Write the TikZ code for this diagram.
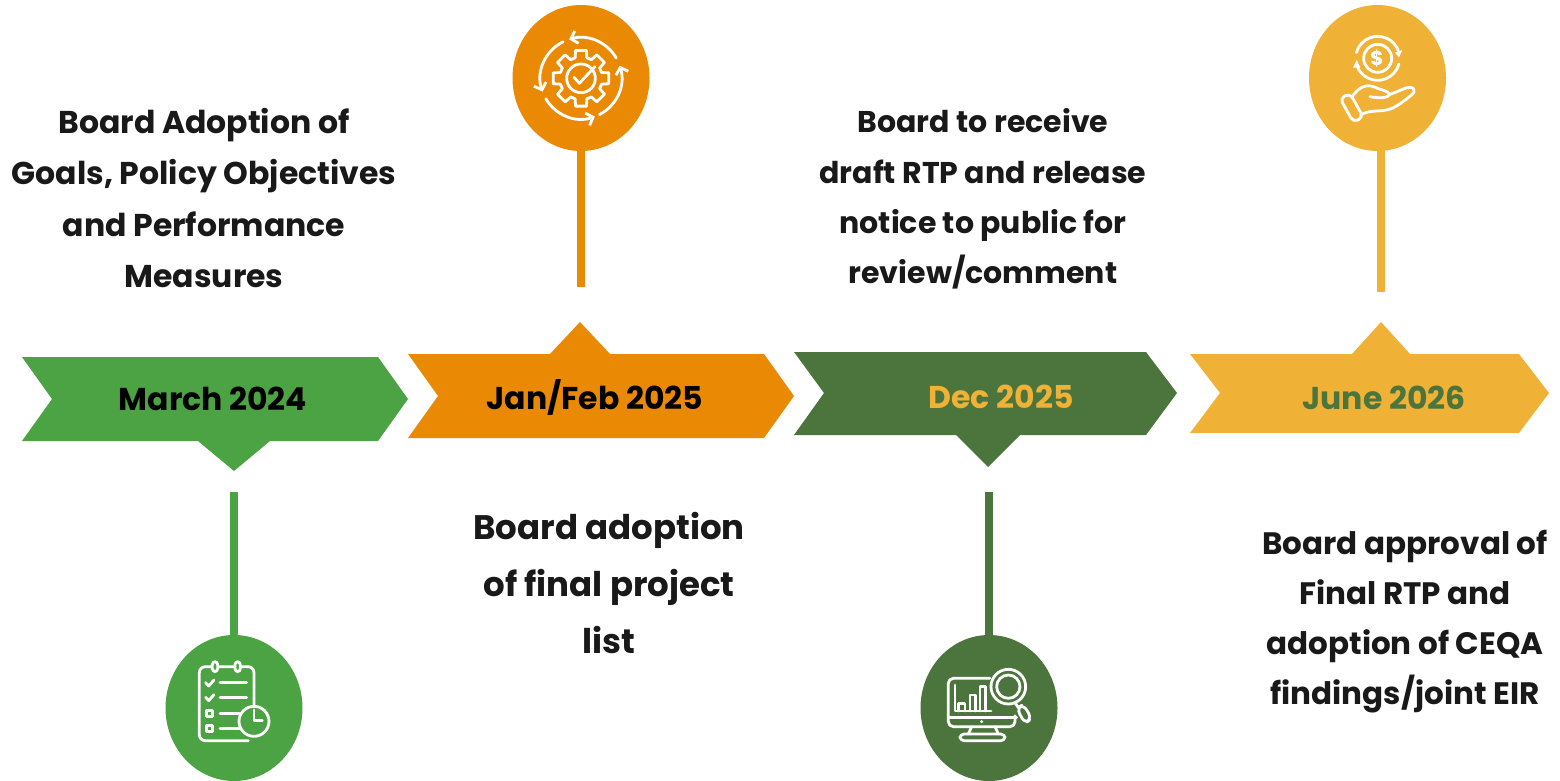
\documentclass[tikz,border=0pt]{standalone}
\usepackage{fontspec}
\setmainfont{Poppins}
\usetikzlibrary{calc,shapes.geometric,arrows.meta}
\definecolor{gA}{HTML}{4BA343}
\definecolor{oA}{HTML}{EA8A04}
\definecolor{dA}{HTML}{4C753D}
\definecolor{yA}{HTML}{EFB236}
\begin{document}
\begin{tikzpicture}[x=1pt,y=-1pt,
 lab/.style={align=center,font=\fontsize{31.5}{51.5}\selectfont\bfseries,text=black!90},
 dt/.style={font=\fontsize{31.5}{36}\selectfont\bfseries},
 disc/.style={ellipse,inner sep=0pt,minimum width=137pt,minimum height=146pt},
 stem/.style={line width=8pt},
 ico/.style={draw=white,line width=2.8pt,line cap=round,line join=round},
 tip/.style={-{Straight Barb[length=6pt,width=13pt,line width=2.8pt]}}]
\useasboundingbox (0,0) rectangle (1560,781);
\fill[white] (0,0) rectangle (1560,781);
\fill[gA] (22,357)--(378,357)--(408,399)--(378,441)--(270,441)--(234,471)--(198,441)--(22,441)--(52,399)--cycle;
\fill[oA] (408,354)--(550,354)--(580,322)--(610,354)--(764,354)--(794,396)--(764,438)--(408,438)--(438,396)--cycle;
\fill[dA] (794,352)--(1146,352)--(1177,393)--(1146,435)--(1020,435)--(988,467)--(956,435)--(794,435)--(824,393)--cycle;
\fill[yA] (1190,354)--(1352,354)--(1381,322)--(1410,354)--(1519,354)--(1549,393)--(1519,433)--(1190,433)--(1220,393)--cycle;
\node[dt,text=black] (d1) at (213,399) {March 2024};
\node[dt,text=black] (d2) at (595,397) {Jan/Feb 2025};
\node[dt,text=yA] (d3) at (1001,397) {Dec 2025};
\node[dt,text=dA] (d4) at (1384,398) {June 2026};
\node[disc,fill=gA] (c1) at (234,708) {};
\node[disc,fill=oA] (c2) at (581,78) {};
\node[disc,fill=dA] (c3) at (989,708) {};
\node[disc,fill=yA] (c4) at (1377.5,78) {};
\coordinate (s1) at (234,492);
\coordinate (s2) at (581,287);
\coordinate (s3) at (989,492);
\coordinate (s4) at (1381,292);
\draw[gA,stem] (s1)--(s1|-c1.center);
\draw[oA,stem] (s2)--(s2|-c2.center);
\draw[dA,stem] (s3)--(s3|-c3.center);
\draw[yA,stem] (s4)--(s4|-c4.center);
% icon 1: clipboard and clock
\begin{scope}[shift={(150,620)},x=0.3333pt,y=-0.3333pt]
 \draw[ico,rounded corners=6pt] (312,255)--(312,140)--(148,140)--(148,362)--(295,362);
 \draw[ico,fill=gA,rounded corners=3pt] (187,125) rectangle (203,155);
 \draw[ico,fill=gA,rounded corners=3pt] (255,125) rectangle (271,155);
 \draw[ico] (167,188)--(176,198)--(192,180);
 \draw[ico] (167,232)--(176,242)--(192,224);
 \draw[ico] (170,271) rectangle (188,289);
 \draw[ico] (170,316) rectangle (188,334);
 \draw[ico] (210,187)--(290,187);
 \draw[ico] (210,232)--(290,232);
 \draw[ico] (210,280)--(268,280);
 \draw[ico] (210,325)--(268,325);
 \draw[ico,fill=gA] (312,304) circle (45);
 \draw[ico] (312,270)--(312,302)--(337,302);
\end{scope}
% icon 2: gear with cycle arrows
\begin{scope}[shift={(500,0)},x=0.3333pt,y=-0.3333pt]
 \coordinate (g) at (243,235);
 \foreach \k in {0,45,...,315}{
  \draw[ico] ($(g)+(\k-11:85)$)--($(g)+(\k+11:85)$)--($(g)+(\k+16:64)$)--($(g)+(\k+29:64)$)--($(g)+(\k+34:85)$);
 }
 \draw[ico] (g) circle (43);
 \draw[ico] (222,232)--(238,250)--(285,200);
 \draw[ico,tip] ($(g)+(-30:122)$) arc[start angle=-30,end angle=-107,radius=122];
 \draw[ico,tip] ($(g)+(-116:122)$) arc[start angle=-116,end angle=-199,radius=122];
 \draw[ico,tip] ($(g)+(-210:122)$) arc[start angle=-210,end angle=-290,radius=122];
 \draw[ico,tip] ($(g)+(-297:122)$) arc[start angle=-297,end angle=-378,radius=122];
\end{scope}
% icon 3: monitor and magnifier
\begin{scope}[shift={(905,625)},x=0.3333pt,y=-0.3333pt]
 \draw[ico,rounded corners=5pt] (255,160)--(130,160)--(130,305)--(330,305)--(330,272);
 \draw[ico] (130,277)--(335,277);
 \draw[ico] (150,180)--(150,258)--(258,258);
 \draw[ico] (160,258)--(160,235)--(180,235)--(180,258);
 \draw[ico] (195,258)--(195,210)--(212,210)--(212,258);
 \draw[ico] (225,258)--(225,185)--(242,185)--(242,258);
 \fill[white] (230,290) circle (5);
 \draw[ico] (200,305)--(190,327);
 \draw[ico] (270,305)--(280,327);
 \draw[ico,rounded corners=4pt] (165,327) rectangle (300,347);
 \draw[ico,fill=dA] (310,185) circle (52);
 \draw[ico] (310,185) circle (35);
 \draw[ico] (330,233)--(340,248);
 \draw[ico,fill=dA,rounded corners=6pt] (335,250)--(355,238)--(380,280)--(360,296)--cycle;
\end{scope}
% icon 4: hand and coin
\begin{scope}[shift={(1295,0)},x=0.3333pt,y=-0.3333pt]
 \coordinate (m) at (248,175);
 \draw[ico] (m) circle (42);
 \draw[ico] ($(m)+(-20:66)$) arc[start angle=-20,end angle=-165,radius=66];
 \draw[ico] ($(m)+(-200:66)$) arc[start angle=-200,end angle=-345,radius=66];
 \fill[white] (300,158)--(322,150)--(312,172)--cycle;
 \fill[white] (174,203)--(196,203)--(185,180)--cycle;
 \node[text=white,font=\fontsize{20}{20}\selectfont\bfseries] (dollar) at (246,175) {\$};
 \draw[ico,rounded corners=5pt] (135,295)--(165,280)--(205,352)--(175,367)--cycle;
 \draw[ico] (172,290) .. controls (190,262) and (215,250) .. (240,262) .. controls (255,270) and (275,270) .. (285,283) .. controls (280,295) and (250,295) .. (225,290);
 \draw[ico] (285,283) .. controls (310,275) and (330,262) .. (345,262) .. controls (358,262) and (362,275) .. (352,283) .. controls (325,305) and (300,325) .. (275,330) .. controls (250,335) and (220,330) .. (197,345);
\end{scope}
\node[lab] (t1) at (204,198) {Board Adoption of\\Goals, Policy Objectives\\and Performance\\Measures};
\node[lab,font=\fontsize{34}{57}\selectfont\bfseries] (t2) at (609,583) {Board adoption\\of final project\\list};
\node[lab,font=\fontsize{30}{50.3}\selectfont\bfseries] (t3) at (983,199) {Board to receive\\draft RTP and release\\notice to public for\\review/comment};
\node[lab,font=\fontsize{31}{50}\selectfont\bfseries] (t4) at (1405,622) {Board approval of\\Final RTP and\\adoption of CEQA\\findings/joint EIR};
\end{tikzpicture}
\end{document}
